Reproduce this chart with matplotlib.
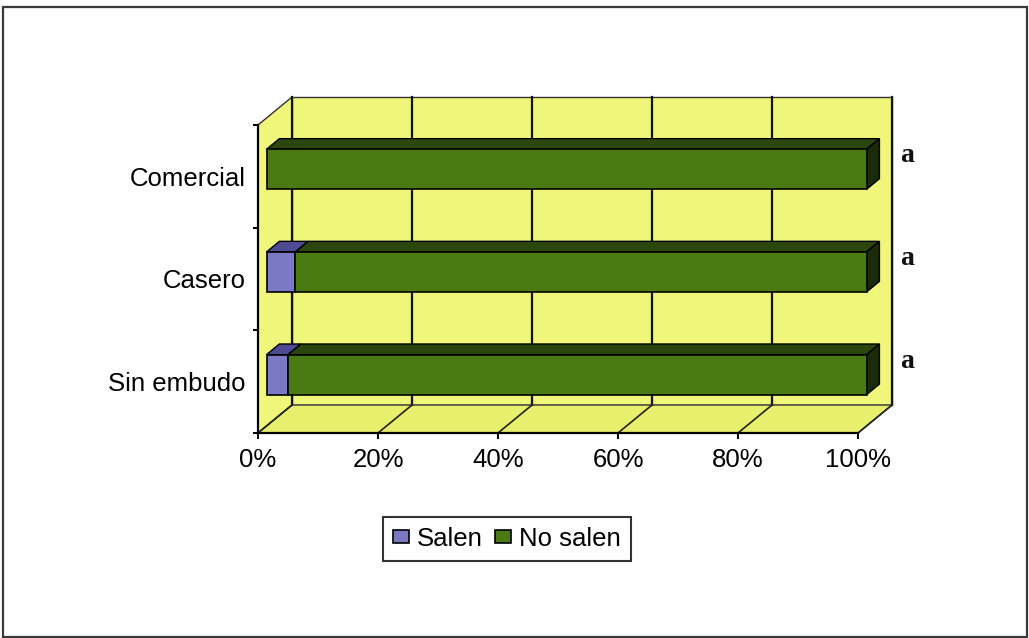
import matplotlib
matplotlib.use("Agg")
import matplotlib.pyplot as plt
from matplotlib.patches import Polygon, Rectangle, Patch
from matplotlib.ticker import FixedLocator, FuncFormatter

# ---- data -------------------------------------------------------------
categories = ["Sin embudo", "Casero", "Comercial"]
salen = [3.6, 4.8, 0.0]
no_salen = [96.4, 95.2, 100.0]
significance = ["a", "a", "a"]
series_labels = ["Salen", "No salen"]
x_ticks = [0, 20, 40, 60, 80, 100]

# ---- styling ----------------------------------------------------------
plt.rcParams["font.family"] = ["Liberation Sans", "DejaVu Sans"]
FONT_SIZE = 18.5
WALL = "#EFF67A"
FLOOR = "#E8EF6C"
series_faces = [
    {"front": "#7C79C4", "top": "#4E4B92", "side": "#34326A"},
    {"front": "#4B7A14", "top": "#2B470E", "side": "#1B2A08"},
]

W, H = 1029, 638
fig = plt.figure(figsize=(W / 100, H / 100), dpi=100)
fig.patch.set_facecolor("white")

# outer chart border
fig.patches.append(Rectangle((3 / W, 1 / H), 1024 / W, 630 / H,
                             transform=fig.transFigure, fill=False,
                             edgecolor="#3a3a3a", linewidth=1.6))

ax = fig.add_axes([258 / W, (H - 433) / H, 600 / W, 308 / H])
n = len(categories)
ax.set_xlim(0, 100)
ax.set_ylim(-0.5, n - 0.5)
ax.set_facecolor("none")

# depth of the 3-D box, in data units
DX = 34 / 6.0
DY = 28 / (308 / n)
y0, y1 = -0.5, n - 0.5

# side wall, back wall and floor
side = Polygon([(0, y0), (DX, y0 + DY), (DX, y1 + DY), (0, y1)],
               closed=True, facecolor=WALL, edgecolor="#333333",
               linewidth=1.0, clip_on=False, zorder=1)
back = Polygon([(DX, y0 + DY), (100 + DX, y0 + DY), (100 + DX, y1 + DY), (DX, y1 + DY)],
               closed=True, facecolor=WALL, edgecolor="#333333",
               linewidth=1.0, clip_on=False, zorder=1)
floor = Polygon([(0, y0), (100, y0), (100 + DX, y0 + DY), (DX, y0 + DY)],
                closed=True, facecolor=FLOOR, edgecolor="#333333",
                linewidth=1.0, clip_on=False, zorder=1)
for p in (side, back, floor):
    ax.add_patch(p)

# gridlines on the back wall and on the floor
for t in x_ticks:
    ax.plot([t + DX, t + DX], [y0 + DY, y1 + DY], color="#111111",
            linewidth=1.6, clip_on=False, zorder=2)
    ax.plot([t, t + DX], [y0, y0 + DY], color="#222222",
            linewidth=1.2, clip_on=False, zorder=2)

# 3-D stacked bars
BAR_H = 0.39
F0, F1 = 0.25, 0.63
for i, cat in enumerate(categories):
    left = 0.0
    vals = [salen[i], no_salen[i]]
    bot = i - BAR_H / 2 + F0 * DY
    top = i + BAR_H / 2 + F0 * DY
    ddx, ddy = (F1 - F0) * DX, (F1 - F0) * DY
    last = None
    for s, v in enumerate(vals):
        if v <= 0:
            continue
        a = left + F0 * DX
        b = left + v + F0 * DX
        cols = series_faces[s]
        ax.add_patch(Polygon([(a, top), (b, top), (b + ddx, top + ddy), (a + ddx, top + ddy)],
                             closed=True, facecolor=cols["top"], edgecolor="black",
                             linewidth=1.0, clip_on=False, zorder=4))
        ax.add_patch(Rectangle((a, bot), v, top - bot, facecolor=cols["front"],
                               edgecolor="black", linewidth=1.2, clip_on=False, zorder=5))
        left += v
        last = s
    b = left + F0 * DX
    cols = series_faces[last]
    ax.add_patch(Polygon([(b, bot), (b, top), (b + ddx, top + ddy), (b + ddx, bot + ddy)],
                         closed=True, facecolor=cols["side"], edgecolor="black",
                         linewidth=1.0, clip_on=False, zorder=4))
    ax.text(left + 8.2, i + 0.2, significance[i], ha="center", va="center",
            fontsize=20, fontweight="bold", family=["Liberation Serif", "DejaVu Serif"],
            color="#111111", zorder=6)

# axes lines and ticks
for k in ("top", "right"):
    ax.spines[k].set_visible(False)
for k in ("left", "bottom"):
    ax.spines[k].set_linewidth(1.6)
    ax.spines[k].set_color("black")
    ax.spines[k].set_zorder(3)

ax.xaxis.set_major_locator(FixedLocator(x_ticks))
ax.xaxis.set_major_formatter(FuncFormatter(lambda v, p: f"{v:.0f}%"))
ax.tick_params(axis="x", which="major", direction="out", length=4.5, width=1.4,
               labelsize=FONT_SIZE, pad=6)

ax.set_yticks(range(n))
ax.set_yticklabels(categories)
ax.tick_params(axis="y", which="major", length=0, labelsize=FONT_SIZE, pad=9)
ax.yaxis.set_minor_locator(FixedLocator([k - 0.5 for k in range(n + 1)]))
ax.tick_params(axis="y", which="minor", direction="out", length=3.8, width=1.4)

# legend
handles = [Patch(facecolor=series_faces[s]["front"], edgecolor="black", linewidth=1.2)
           for s in range(len(series_labels))]
leg = fig.legend(handles, series_labels, loc="center", bbox_to_anchor=(507 / W, 1 - 539 / H),
                 ncol=2, fontsize=FONT_SIZE, frameon=True, fancybox=False, shadow=False,
                 handlelength=0.62, handleheight=0.42, handletextpad=0.3,
                 columnspacing=0.5, borderpad=0.4, borderaxespad=0)
leg.get_frame().set_edgecolor("black")
leg.get_frame().set_linewidth(1.5)

fig.savefig("out.png", dpi=100, facecolor="white")
